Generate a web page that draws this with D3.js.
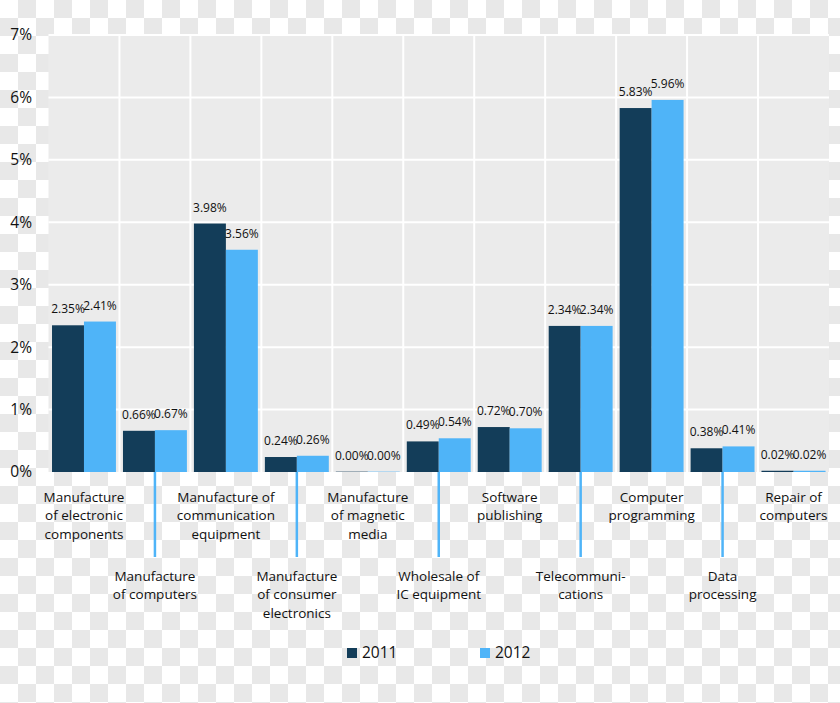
<!DOCTYPE html>
<html>
<head>
<meta charset="utf-8">
<script src="https://cdn.jsdelivr.net/npm/d3@7"></script>
<style>
  html, body { margin: 0; padding: 0; background: #fff; }
  svg { display: block; font-family: 'Open Sans', sans-serif; }
</style>
</head>
<body>
<div id="chart"></div>
<script>
// category labels, "|" marks a line break
const categories = [
  'Manufacture|of electronic|components',
  'Manufacture|of computers',
  'Manufacture of|communication|equipment',
  'Manufacture|of consumer|electronics',
  'Manufacture|of magnetic|media',
  'Wholesale of|IC equipment',
  'Software|publishing',
  'Telecommuni-|cations',
  'Computer|programming',
  'Data|processing',
  'Repair of|computers'
];
const years = ['2011', '2012'];
const values2011 = [2.35, 0.66, 3.98, 0.24, 0.00, 0.49, 0.72, 2.34, 5.83, 0.38, 0.02];
const values2012 = [2.41, 0.67, 3.56, 0.26, 0.00, 0.54, 0.70, 2.34, 5.96, 0.41, 0.02];
const yTicks = [0, 1, 2, 3, 4, 5, 6, 7];

const colors = {'2011': '#133d59', '2012': '#4fb4f8'};
const textCol = '#111';

const W = 840, H = 703;
const plot = {left: 48.5, right: 829, top: 35, bottom: 472};

const svg = d3.select('#chart').append('svg')
  .attr('width', W)
  .attr('height', H);

// transparent-png checker background
const defs = svg.append('defs');
const pat = defs.append('pattern')
  .attr('id', 'checker')
  .attr('width', 36).attr('height', 36)
  .attr('patternUnits', 'userSpaceOnUse');
pat.append('rect').attr('width', 36).attr('height', 36).attr('fill', '#ffffff');
pat.append('rect').attr('x', 18).attr('y', 0).attr('width', 18).attr('height', 18).attr('fill', '#e8e8e8');
pat.append('rect').attr('x', 0).attr('y', 18).attr('width', 18).attr('height', 18).attr('fill', '#e8e8e8');
svg.append('rect').attr('width', W).attr('height', H).attr('fill', 'url(#checker)');

const x = d3.scaleBand()
  .domain(d3.range(categories.length))
  .range([plot.left, plot.right])
  .padding(0);

const xs = d3.scaleBand()
  .domain(years)
  .range([0, x.bandwidth()])
  .paddingInner(0)
  .paddingOuter(0.11);

const y = d3.scaleLinear()
  .domain([0, 7])
  .range([plot.bottom, plot.top]);

// plot background
svg.append('rect')
  .attr('x', plot.left).attr('y', plot.top)
  .attr('width', plot.right - plot.left)
  .attr('height', plot.bottom - plot.top)
  .attr('fill', '#ebebeb');

// grid lines
svg.append('g').selectAll('line')
  .data(yTicks.slice(1))
  .enter().append('line')
    .attr('x1', plot.left).attr('x2', plot.right)
    .attr('y1', d => y(d)).attr('y2', d => y(d))
    .attr('stroke', '#fff').attr('stroke-width', 2);

svg.append('g').selectAll('line')
  .data(d3.range(1, categories.length))
  .enter().append('line')
    .attr('x1', d => x(d)).attr('x2', d => x(d))
    .attr('y1', plot.top).attr('y2', plot.bottom)
    .attr('stroke', '#fff').attr('stroke-width', 2);

// y axis labels
const yAxis = d3.axisLeft(y)
  .tickValues(yTicks)
  .tickFormat(d => d + '%')
  .tickSize(0)
  .tickPadding(0);
const yg = svg.append('g')
  .attr('transform', 'translate(32,0)')
  .call(yAxis);
yg.select('.domain').remove();
yg.selectAll('text')
  .attr('font-family', "'Open Sans', sans-serif")
  .attr('font-size', '15.5px')
  .attr('fill', textCol);

// bars
const rows = categories.map((c, i) => ({
  i: i,
  vals: [{year: '2011', v: values2011[i]}, {year: '2012', v: values2012[i]}]
}));

const groups = svg.append('g').selectAll('g')
  .data(rows)
  .enter().append('g')
    .attr('transform', d => 'translate(' + x(d.i) + ',0)');

groups.selectAll('rect')
  .data(d => d.vals)
  .enter().append('rect')
    .attr('x', d => xs(d.year))
    .attr('y', d => y(d.v))
    .attr('width', xs.bandwidth())
    .attr('height', d => Math.max(0, y(0) - y(d.v)))
    .attr('fill', d => colors[d.year]);

// thin hairline for the zero-value bars
groups.selectAll('line.base')
  .data(d => d.vals)
  .enter().append('line')
    .attr('class', 'base')
    .attr('x1', d => xs(d.year)).attr('x2', d => xs(d.year) + xs.bandwidth())
    .attr('y1', y(0) - 0.5).attr('y2', y(0) - 0.5)
    .attr('stroke', d => colors[d.year]).attr('stroke-opacity', 0.35)
    .attr('stroke-width', 1);

groups.selectAll('text')
  .data(d => d.vals)
  .enter().append('text')
    .attr('x', d => xs(d.year) + xs.bandwidth() / 2)
    .attr('y', d => y(d.v) - 12)
    .attr('text-anchor', 'middle')
    .attr('font-size', '12px')
    .attr('fill', textCol)
    .text(d => d.v.toFixed(2) + '%');

// category labels, staggered
const labels = svg.append('g').selectAll('g')
  .data(categories)
  .enter().append('g')
    .attr('transform', (d, i) => 'translate(' + (x(i) + x.bandwidth() / 2) + ',0)');

labels.filter((d, i) => i % 2 === 1).append('line')
  .attr('x1', 0).attr('x2', 0)
  .attr('y1', plot.bottom).attr('y2', 557)
  .attr('stroke', colors['2012'])
  .attr('stroke-width', 2.5);

labels.each(function(d, i) {
  const lines = d.split('|');
  const y0 = i % 2 === 0 ? 501.5 : 580.5;
  d3.select(this).selectAll('text')
    .data(lines)
    .enter().append('text')
      .attr('x', 0)
      .attr('y', (l, k) => y0 + k * 18.5)
      .attr('text-anchor', 'middle')
      .attr('font-size', '13.5px')
      .attr('fill', textCol)
      .text(l => l);
});

// legend
const legend = svg.append('g').selectAll('g')
  .data(years)
  .enter().append('g')
    .attr('transform', (d, i) => 'translate(' + (347 + i * 133) + ',648)');

legend.append('rect')
  .attr('width', 10).attr('height', 10)
  .attr('fill', d => colors[d]);

legend.append('text')
  .attr('x', 15).attr('y', 10)
  .attr('font-size', '15.5px')
  .attr('fill', textCol)
  .text(d => d);
</script>
</body>
</html>
